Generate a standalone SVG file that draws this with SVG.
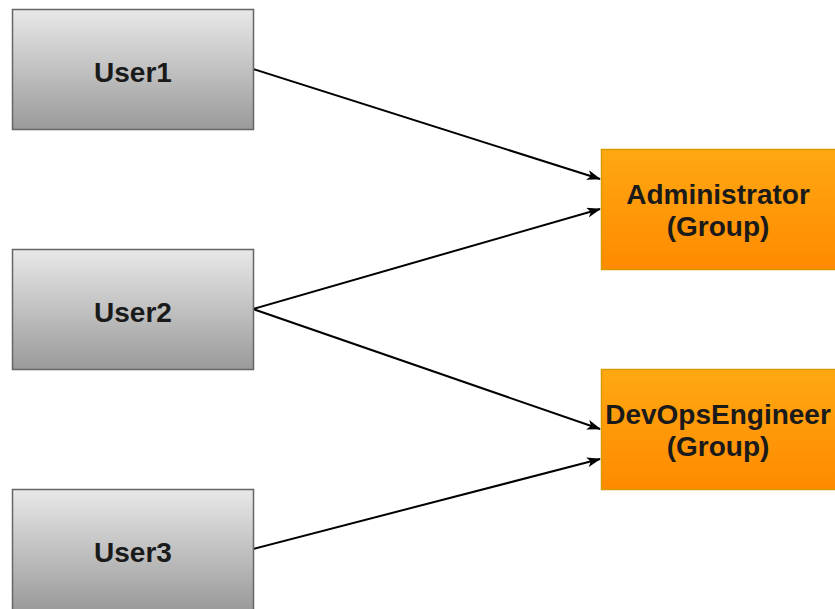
<svg xmlns="http://www.w3.org/2000/svg" width="835" height="609" viewBox="0 0 835 609">
  <style>
    .user { fill: url(#grayGrad); stroke: #666666; stroke-width: 1.5; }
    .group { fill: url(#orangeGrad); stroke: #d79b00; stroke-width: 1.5; }
    .label { font-family: "Liberation Sans", Arial, sans-serif; font-weight: bold; font-size: 28px; fill: #1a1a1a; text-anchor: middle; }
    .edge { stroke: #000000; stroke-width: 2; fill: none; marker-end: url(#arrow); }
  </style>
  <defs>
    <linearGradient id="grayGrad" x1="0" y1="0" x2="0" y2="1">
      <stop offset="0" stop-color="#e8e8e8"/>
      <stop offset="1" stop-color="#9a9a9a"/>
    </linearGradient>
    <linearGradient id="orangeGrad" x1="0" y1="0" x2="0" y2="1">
      <stop offset="0" stop-color="#ffa812"/>
      <stop offset="1" stop-color="#ff8a00"/>
    </linearGradient>
    <marker id="arrow" viewBox="0 0 14 10" refX="13" refY="5" markerWidth="14" markerHeight="10" markerUnits="userSpaceOnUse" orient="auto">
      <path d="M0,0 L14,5 L0,10 L3.5,5 Z" fill="#000000"/>
    </marker>
  </defs>

  <g id="connectors">
    <line class="edge" x1="253" y1="69" x2="600" y2="179"/>
    <line class="edge" x1="253" y1="309" x2="600" y2="209"/>
    <line class="edge" x1="253" y1="309" x2="600" y2="429"/>
    <line class="edge" x1="253" y1="549" x2="600" y2="459"/>
  </g>

  <g id="user1">
    <rect class="user" x="12.5" y="9.5" width="241" height="120"/>
    <text class="label" x="133" y="82">User1</text>
  </g>
  <g id="user2">
    <rect class="user" x="12.5" y="249.5" width="241" height="120"/>
    <text class="label" x="133" y="322">User2</text>
  </g>
  <g id="user3">
    <rect class="user" x="12.5" y="489.5" width="241" height="121"/>
    <text class="label" x="133" y="562">User3</text>
  </g>
  <g id="administrator">
    <rect class="group" x="601.5" y="149.5" width="240" height="120"/>
    <text class="label" x="718" y="204">Administrator</text>
    <text class="label" x="718" y="236">(Group)</text>
  </g>
  <g id="devopsengineer">
    <rect class="group" x="601.5" y="369.5" width="240" height="120"/>
    <text class="label" x="718" y="424">DevOpsEngineer</text>
    <text class="label" x="718" y="456">(Group)</text>
  </g>
</svg>
